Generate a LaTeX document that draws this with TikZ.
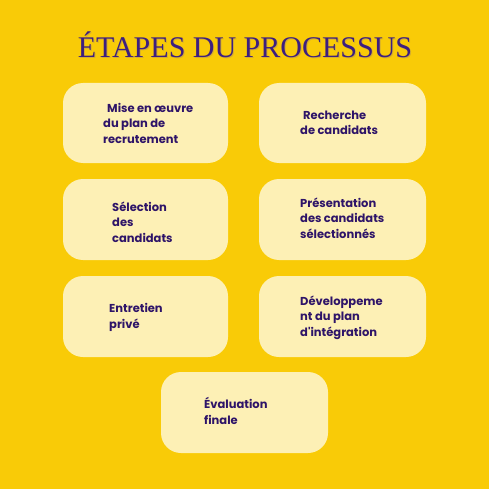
\documentclass[tikz,border=0pt]{standalone}
\usepackage{fontspec}
\setmainfont{Poppins}[Ligatures=TeXOff]
\newfontfamily\titlefont{Liberation Serif}
\definecolor{bgyellow}{HTML}{F9CB07}
\definecolor{boxfill}{HTML}{FDF0B5}
\definecolor{txtpurple}{HTML}{2E1468}
\definecolor{titlepurple}{HTML}{3D1F7F}
\definecolor{shadowcol}{HTML}{D4AE30}
\tikzset{
  stepbox/.style={draw=none, fill=boxfill, rounded corners=20pt},
  steptext/.style={anchor=base west, inner sep=0pt, align=left, text=txtpurple,
    font=\fontsize{11.5}{15.5}\selectfont\bfseries},
}
\begin{document}
\begin{tikzpicture}[x=1pt,y=-1pt]
\useasboundingbox (0,0) rectangle (489,489);
\fill[bgyellow] (0,0) rectangle (489,489);
\node[anchor=base, inner sep=0pt, text=shadowcol, font=\titlefont\fontsize{30}{36}\selectfont] (titleshadow) at (246,59) {ÉTAPES DU PROCESSUS};
\node[anchor=base, inner sep=0pt, text=titlepurple, font=\titlefont\fontsize{30}{36}\selectfont] (title) at (245,58) {ÉTAPES DU PROCESSUS};
% boxes
\path[stepbox] (63,83) rectangle (228,163) coordinate (b1);
\path[stepbox] (259,83) rectangle (426,163) coordinate (b2);
\path[stepbox] (63,179) rectangle (228,260) coordinate (b3);
\path[stepbox] (259,179) rectangle (426,260) coordinate (b4);
\path[stepbox] (63,276) rectangle (228,357) coordinate (b5);
\path[stepbox] (259,276) rectangle (426,357) coordinate (b6);
\path[stepbox] (161,372) rectangle (328,453) coordinate (b7);
% texts (anchor = baseline of last line)
\node[steptext] (t1) at (103,143) {\hspace*{4pt}Mise en œuvre\\du plan de\\recrutement};
\node[steptext] (t2) at (300,135) {\hspace*{3pt}Recherche\\de candidats};
\node[steptext] (t3) at (112,242) {Sélection\\des\\candidats};
\node[steptext] (t4) at (300,238) {Présentation\\des candidats\\sélectionnés};
\node[steptext] (t5) at (109,328) {Entretien\\privé};
\node[steptext] (t6) at (300,336) {Développeme\\nt du plan\\d'intégration};
\node[steptext] (t7) at (204,424) {Évaluation\\finale};
\end{tikzpicture}
\end{document}
